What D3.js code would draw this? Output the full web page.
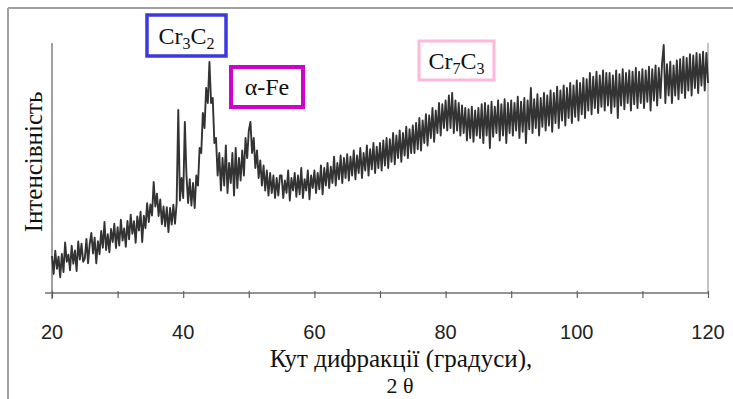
<!DOCTYPE html>
<html><head><meta charset="utf-8">
<script src="https://cdn.jsdelivr.net/npm/d3@7/dist/d3.min.js"></script>
<style>html,body{margin:0;padding:0;background:#fff;}svg{display:block;}</style>
</head><body>
<svg id="chart" width="733" height="399"></svg>
<script>
// ---- DATA ----
const angleStart = 20, angleEnd = 120, angleStep = 0.25;
const xTicks = [20,30,40,50,60,70,80,90,100,110,120];
const xTickLabels = [20,40,60,80,100,120];
const i20to40 = [
 148,76,169,97,145,63,156,84,202,125,153,91,189,117,170,88,206,134,197,125,
 138,216,119,197,240,158,221,119,207,155,248,181,284,172,235,163,256,204,277,180,
 263,190,293,210,258,185,288,215,313,237,287,201,306,250,325,204,309,259,359,284,
 354,310,444,346,397,308,374,275,346,267,343,244,340,274,353,277,360,732,370,460];
const i40to60 = [
 380,684,470,360,455,350,440,340,470,430,580,560,720,660,820,760,924,760,780,600,
 620,470,560,410,540,430,590,400,520,440,560,390,580,420,540,450,570,470,620,540,
 650,684,560,620,500,570,460,530,430,510,410,490,390,480,400,470,380,460,390,470,
 470,380,450,400,490,370,460,410,480,385,470,395,500,380,455,410,490,375,470,420];
const i60to80 = [
 490,400,480,415,510,395,500,430,520,420,505,440,545,430,520,455,550,440,540,460,
 555,450,545,470,570,455,550,480,580,460,560,490,590,470,575,495,600,480,585,500,
 600,490,610,510,620,500,615,525,640,515,630,540,650,525,640,550,665,540,655,560,
 670,560,680,575,700,570,690,600,715,590,710,620,740,605,730,640,760,630,755,660];
const i80to100 = [
 770,650,790,660,800,640,770,650,760,630,750,640,740,610,735,620,745,605,730,630,
 740,620,755,600,760,630,750,580,765,625,745,640,770,610,755,630,775,600,760,640,
 770,630,760,650,785,620,765,645,780,600,770,655,820,640,775,660,795,630,780,665,
 800,650,790,670,810,645,800,680,825,660,810,690,830,670,820,700,840,680,830,705];
const i100to120 = [
 850,690,840,715,860,700,855,730,880,715,865,740,885,720,870,745,890,730,880,750,
 880,720,870,745,890,700,875,750,895,735,880,760,890,730,885,755,900,740,885,760,
 895,740,890,765,905,730,895,770,910,750,900,780,920,992,760,915,790,925,760,910,
 790,930,775,935,800,945,780,940,810,955,790,950,820,960,800,955,830,965,810,960,
 840];
const intensity = [].concat(i20to40, i40to60, i60to80, i80to100, i100to120);
const angles = intensity.map((_, i) => angleStart + i * angleStep);
const phaseLabels = [
  {base:["Cr","C"], subs:["3","2"], color:"#3a3ae0"},
  {text:"α-Fe", color:"#d000d0"},
  {base:["Cr","C"], subs:["7","3"], color:"#ffb8dc"}
];
const yTitle = "Інтенсівність";
const xTitle1 = "Кут дифракції (градуси),";
const xTitle2 = "2 θ";

// ---- DRAW ----
const serif = "'Liberation Serif', 'Times New Roman', 'DejaVu Serif', serif";
const svg = d3.select("#chart");
svg.append("rect").attr("width",733).attr("height",399).attr("fill","#fff");

// outer frame
svg.append("line").attr("x1",8).attr("y1",8).attr("x2",733).attr("y2",8)
  .attr("stroke","#a0a0a0").attr("stroke-width",2);
svg.append("line").attr("x1",8).attr("y1",8).attr("x2",8).attr("y2",399)
  .attr("stroke","#a0a0a0").attr("stroke-width",2);

const x = d3.scaleLinear().domain([angleStart, angleEnd]).range([52, 708]);
const y = d3.scaleLinear().domain([0, 1000]).range([293, 43]);

// right plot edge
svg.append("line").attr("x1",x(120)).attr("x2",x(120)).attr("y1",y(1000)).attr("y2",y(0))
  .attr("stroke","#b0b0b0").attr("stroke-width",1.5);
// y axis line
svg.append("line").attr("x1",x(20)).attr("x2",x(20)).attr("y1",y(1000)).attr("y2",y(0)+6)
  .attr("stroke","#808080").attr("stroke-width",1.5);

// data line
const line = d3.line().x((d,i)=>x(angles[i])).y(d=>y(d));
svg.append("path").datum(intensity).attr("d", line)
  .attr("fill","none").attr("stroke","#333").attr("stroke-width",1.9)
  .attr("stroke-linejoin","round");

// x axis
const xAxis = d3.axisBottom(x).tickValues(xTicks).tickSize(5).tickFormat("");
const gx = svg.append("g").attr("transform",`translate(0,${y(0)})`).call(xAxis);
gx.select(".domain").attr("d", `M${x(20)-7},0H${x(120)}`).attr("stroke","#707070").attr("stroke-width",1.5);
gx.selectAll(".tick line").attr("stroke","#606060").attr("stroke-width",1.2).attr("y1",-2);
svg.append("g").selectAll("text").data(xTickLabels).join("text")
  .attr("x", d=>x(d)).attr("y", 339).attr("text-anchor","middle")
  .attr("font-family","'Liberation Sans', Arial, sans-serif").attr("font-size",20)
  .attr("fill","#222").text(d=>d);

// titles
svg.append("text").attr("x",401).attr("y",367).attr("text-anchor","middle")
  .attr("font-family",serif).attr("font-size",25)
  .attr("fill","#111").text(xTitle1);
svg.append("text").attr("x",400).attr("y",393).attr("text-anchor","middle")
  .attr("font-family",serif).attr("font-size",22)
  .attr("fill","#111").text(xTitle2);
svg.append("text").attr("transform","translate(42,162) rotate(-90)").attr("text-anchor","middle")
  .attr("font-family",serif).attr("font-size",25)
  .attr("fill","#111").text(yTitle);

// annotation boxes
const boxes = [
  {x:147, y:15, w:79, h:41, sw:3.5},
  {x:231, y:67, w:72, h:40, sw:4},
  {x:419, y:41, w:75, h:39, sw:3}
];
phaseLabels.forEach((p, k) => {
  const b = boxes[k];
  svg.append("rect").attr("x",b.x).attr("y",b.y).attr("width",b.w).attr("height",b.h)
    .attr("fill","#fff").attr("stroke",p.color).attr("stroke-width",b.sw);
  const t = svg.append("text").attr("x",b.x+b.w/2).attr("y",b.y+b.h/2+8)
    .attr("text-anchor","middle")
    .attr("font-family",serif).attr("font-size",24)
    .attr("fill","#111");
  if (p.text) { t.text(p.text); }
  else {
    p.base.forEach((bs, j) => {
      t.append("tspan").attr("dy", j===0?0:-5).text(bs);
      t.append("tspan").attr("font-size",16).attr("dy",5).text(p.subs[j]);
    });
  }
});
</script>
</body></html>
